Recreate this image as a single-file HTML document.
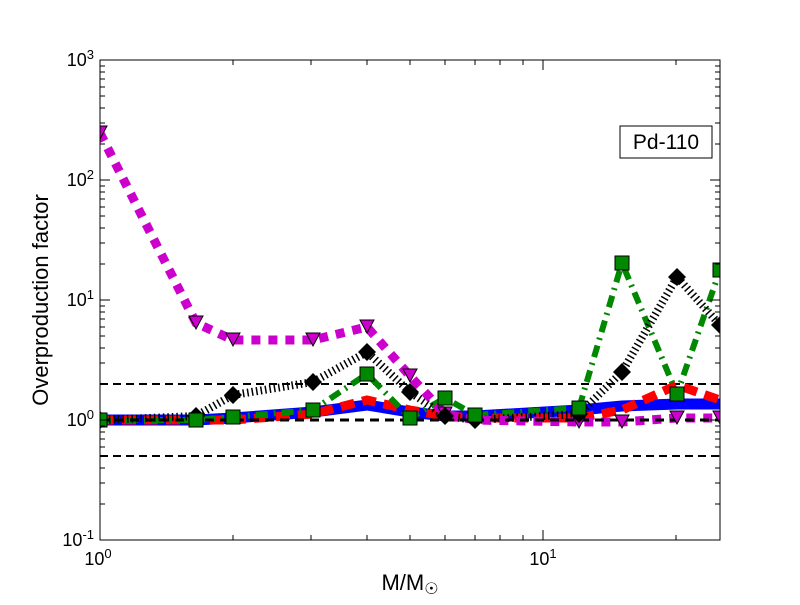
<!DOCTYPE html><html><head><style>body{margin:0;background:#fff}</style></head><body>
<svg width="800" height="600" xmlns="http://www.w3.org/2000/svg" font-family="Liberation Sans, DejaVu Sans, sans-serif">
<rect width="800" height="600" fill="#fff"/>
<defs><clipPath id="c"><rect x="100" y="60" width="620" height="480"/></clipPath></defs>
<g clip-path="url(#c)" fill="none">
<line x1="100" x2="720" y1="384" y2="384" stroke="#000" stroke-width="2" stroke-dasharray="8,5"/>
<line x1="100" x2="720" y1="456" y2="456" stroke="#000" stroke-width="2" stroke-dasharray="8,5"/>
<polyline stroke="#00f" stroke-width="11" points="100,420 196,420 233,418 313,412 367,405 410,412 445,416 475,416 579,410 622,406 677,404 720,404"/>
<polyline stroke="#f00" stroke-width="9" stroke-dasharray="14,8" points="100,420 196,420 233,420 313,414 367,400 410,410 445,416 475,418 579,418 622,410 677,385 720,400"/>
<polyline stroke="#080" stroke-width="6" stroke-dasharray="12,6,2,6" points="100,420 196,420 233,417 313,410 367,374 410,418 445,398 475,415 579,408 622,263 677,394 720,270"/>
<polyline stroke="#000" stroke-width="8" stroke-dasharray="1.5,3" points="100,420 196,416 233,395 313,382 367,352 410,392 445,416 475,420 579,414 622,372 677,277 720,325"/>
<polyline stroke="#c0c" stroke-width="9" stroke-dasharray="9,8" points="100,133 196,323 233,340 313,340 367,327 410,376 445,414 475,420 579,422 622,422 677,418 720,418"/>
<line x1="100" x2="720" y1="420" y2="420" stroke="#000" stroke-width="3" stroke-dasharray="9,6"/>
<g fill="#c0c" stroke="#000" stroke-width="1">
<path d="M93,126h14l-7,13z M189,316h14l-7,13z M226,333h14l-7,13z M306,333h14l-7,13z M360,320h14l-7,13z M403,369h14l-7,13z M438,407h14l-7,13z M468,413h14l-7,13z M572,415h14l-7,13z M615,415h14l-7,13z M670,411h14l-7,13z M713,411h14l-7,13z"/></g>
<g fill="#000"><path d="M100,411l9,9-9,9-9-9z M196,407l9,9-9,9-9-9z M233,386l9,9-9,9-9-9z M313,373l9,9-9,9-9-9z M367,343l9,9-9,9-9-9z M410,383l9,9-9,9-9-9z M445,407l9,9-9,9-9-9z M475,411l9,9-9,9-9-9z M579,405l9,9-9,9-9-9z M622,363l9,9-9,9-9-9z M677,268l9,9-9,9-9-9z M720,316l9,9-9,9-9-9z"/></g>
<g fill="#080" stroke="#000" stroke-width="1">
<rect x="93" y="413" width="14" height="14"/><rect x="189" y="413" width="14" height="14"/><rect x="226" y="410" width="14" height="14"/><rect x="306" y="403" width="14" height="14"/><rect x="360" y="367" width="14" height="14"/><rect x="403" y="411" width="14" height="14"/><rect x="438" y="391" width="14" height="14"/><rect x="468" y="408" width="14" height="14"/><rect x="572" y="401" width="14" height="14"/><rect x="615" y="256" width="14" height="14"/><rect x="670" y="387" width="14" height="14"/><rect x="713" y="263" width="14" height="14"/></g>
</g>
<rect x="100" y="60" width="620" height="480" fill="none" stroke="#000" stroke-width="1"/>
<g stroke="#000" stroke-width="1">
<path d="M100,60v10M100,540v-10M543,60v10M543,540v-10"/>
<path d="M233,540v-5M311,540v-5M367,540v-5M410,540v-5M445,540v-5M475,540v-5M500,540v-5M523,540v-5M676,540v-5M233,60v5M311,60v5M367,60v5M410,60v5M445,60v5M475,60v5M500,60v5M523,60v5M676,60v5"/>
<path d="M100,180h10M100,300h10M100,420h10M720,180h-10M720,300h-10M720,420h-10"/>
<path d="M100,504h5M100,483h5M100,468h5M100,456h5M100,447h5M100,439h5M100,432h5M100,426h5M100,384h5M100,363h5M100,348h5M100,336h5M100,327h5M100,319h5M100,312h5M100,306h5M100,264h5M100,243h5M100,228h5M100,216h5M100,207h5M100,199h5M100,192h5M100,186h5M100,144h5M100,123h5M100,108h5M100,96h5M100,87h5M100,79h5M100,72h5M100,66h5"/>
<path d="M720,504h-5M720,483h-5M720,468h-5M720,456h-5M720,447h-5M720,439h-5M720,432h-5M720,426h-5M720,384h-5M720,363h-5M720,348h-5M720,336h-5M720,327h-5M720,319h-5M720,312h-5M720,306h-5M720,264h-5M720,243h-5M720,228h-5M720,216h-5M720,207h-5M720,199h-5M720,192h-5M720,186h-5M720,144h-5M720,123h-5M720,108h-5M720,96h-5M720,87h-5M720,79h-5M720,72h-5M720,66h-5"/>
</g>
<g font-size="18" text-anchor="end">
<text x="94" y="66">10<tspan font-size="13" dy="-7">3</tspan></text>
<text x="94" y="186">10<tspan font-size="13" dy="-7">2</tspan></text>
<text x="94" y="306">10<tspan font-size="13" dy="-7">1</tspan></text>
<text x="94" y="426">10<tspan font-size="13" dy="-7">0</tspan></text>
<text x="94" y="546">10<tspan font-size="13" dy="-7">-1</tspan></text>
</g>
<g font-size="18" text-anchor="middle">
<text x="98" y="565">10<tspan font-size="13" dy="-7">0</tspan></text>
<text x="543" y="565">10<tspan font-size="13" dy="-7">1</tspan></text>
</g>
<text x="410" y="590" font-size="22" text-anchor="middle">M/M<tspan font-size="16" dy="4">☉</tspan></text>
<text transform="translate(48,300) rotate(-90)" font-size="22" text-anchor="middle">Overproduction factor</text>
<rect x="620" y="126" width="92" height="32" fill="#fff" stroke="#000"/>
<text x="666" y="149" font-size="21" text-anchor="middle">Pd-110</text>
</svg></body></html>
